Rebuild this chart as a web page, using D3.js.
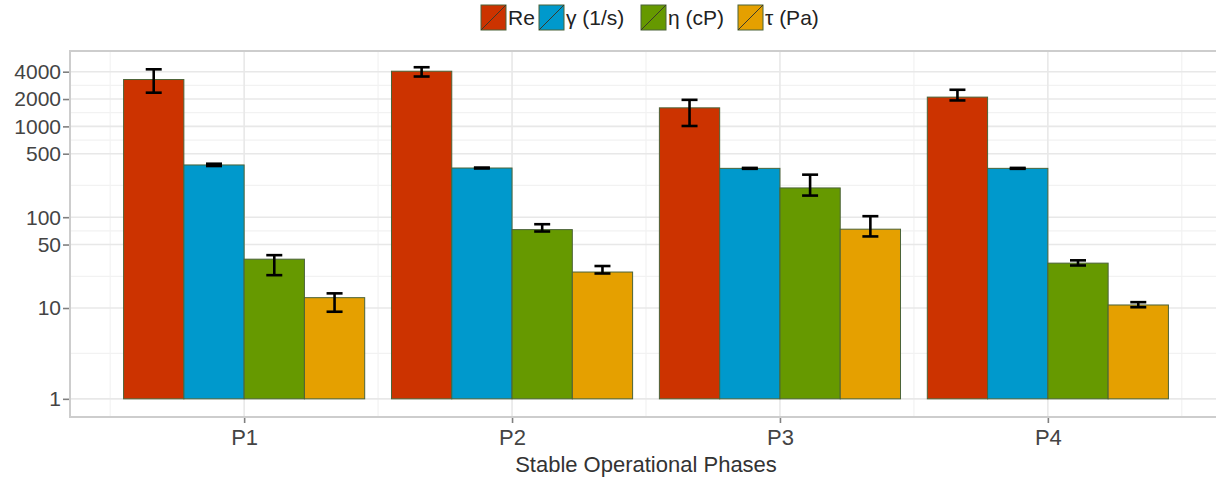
<!DOCTYPE html>
<html>
<head>
<meta charset="utf-8">
<script src="https://cdn.jsdelivr.net/npm/d3@7"></script>
<style>
  html, body { margin: 0; padding: 0; background: #fff; }
  svg { display: block; font-family: "Liberation Sans", Arial, sans-serif; }
</style>
</head>
<body>
<div id="chart"></div>
<script>
// data
const phases = ["P1", "P2", "P3", "P4"];
const seriesNames = ["Re", "γ (1/s)", "η (cP)", "τ (Pa)"];
const seriesColors = ["#cc3300", "#0099cc", "#669900", "#e5a000"];

const reMean = [3280, 4050, 1600, 2100];
const reLow = [2350, 3540, 1010, 1930];
const reHigh = [4250, 4480, 1960, 2530];

const gammaMean = [376, 348, 345, 345];
const gammaLow = [366, 344, 341, 341];
const gammaHigh = [388, 352, 349, 349];

const etaMean = [34.5, 73, 210, 31.2];
const etaLow = [23, 69.6, 173, 29.4];
const etaHigh = [38.2, 83.7, 294, 33.5];

const tauMean = [13, 24.9, 73.8, 10.8];
const tauLow = [9.1, 24, 61.4, 10.2];
const tauHigh = [14.5, 29, 102.6, 11.6];

const yTicks = [1, 10, 50, 100, 500, 1000, 2000, 4000];

const series = [
  { mean: reMean, low: reLow, high: reHigh },
  { mean: gammaMean, low: gammaLow, high: gammaHigh },
  { mean: etaMean, low: etaLow, high: etaHigh },
  { mean: tauMean, low: tauLow, high: tauHigh }
];

const width = 1216, height = 479;
const panel = { left: 70, right: 1222, top: 51, bottom: 417 };

const svg = d3.select("#chart").append("svg")
  .attr("width", width)
  .attr("height", height);

// scales
const x = d3.scaleLinear()
  .domain([-0.65, phases.length - 0.35])
  .range([panel.left, panel.right]);

const y = d3.scaleLog()
  .domain([Math.pow(10, -0.2), Math.pow(10, 3.83)])
  .range([panel.bottom, panel.top]);

const groupWidth = 0.9;
const barW = groupWidth / series.length;

// grid: minor lines half way between the major ones
const grid = svg.append("g");
const minorY = d3.pairs(yTicks).map(([a, b]) => (y(a) + y(b)) / 2);
grid.selectAll("line.minor-y").data(minorY).enter().append("line")
  .attr("x1", panel.left).attr("x2", panel.right)
  .attr("y1", d => d).attr("y2", d => d)
  .attr("stroke", "#f2f2f2").attr("stroke-width", 1.2);
const minorX = d3.range(-0.5, phases.length, 1);
grid.selectAll("line.minor-x").data(minorX).enter().append("line")
  .attr("x1", d => x(d)).attr("x2", d => x(d))
  .attr("y1", panel.top).attr("y2", panel.bottom)
  .attr("stroke", "#f2f2f2").attr("stroke-width", 1.2);
grid.selectAll("line.major-y").data(yTicks).enter().append("line")
  .attr("x1", panel.left).attr("x2", panel.right)
  .attr("y1", d => y(d)).attr("y2", d => y(d))
  .attr("stroke", "#e8e8e8").attr("stroke-width", 1.6);
grid.selectAll("line.major-x").data(phases).enter().append("line")
  .attr("x1", (d, i) => x(i)).attr("x2", (d, i) => x(i))
  .attr("y1", panel.top).attr("y2", panel.bottom)
  .attr("stroke", "#e8e8e8").attr("stroke-width", 1.6);

// bars
const bars = svg.append("g");
series.forEach((s, j) => {
  const g = bars.append("g");
  g.selectAll("rect").data(s.mean).enter().append("rect")
    .attr("x", (d, i) => x(i - groupWidth / 2 + j * barW))
    .attr("width", x(barW) - x(0))
    .attr("y", d => y(d))
    .attr("height", d => y(1) - y(d))
    .attr("fill", seriesColors[j])
    .attr("stroke", "#4b6338")
    .attr("stroke-width", 1);
});

// error bars
const errs = svg.append("g");
series.forEach((s, j) => {
  const capHalf = 8;
  s.mean.forEach((m, i) => {
    const cx = x(i - groupWidth / 2 + (j + 0.5) * barW);
    const g = errs.append("g").attr("stroke", "#000").attr("stroke-width", 2.6);
    g.append("line").attr("x1", cx).attr("x2", cx)
      .attr("y1", y(s.low[i])).attr("y2", y(s.high[i]));
    g.append("line").attr("x1", cx - capHalf).attr("x2", cx + capHalf)
      .attr("y1", y(s.low[i])).attr("y2", y(s.low[i]));
    g.append("line").attr("x1", cx - capHalf).attr("x2", cx + capHalf)
      .attr("y1", y(s.high[i])).attr("y2", y(s.high[i]));
  });
});

// panel border (left, top, bottom)
svg.append("path")
  .attr("d", `M${panel.right},${panel.top}H${panel.left}V${panel.bottom}H${panel.right}`)
  .attr("fill", "none")
  .attr("stroke", "#cdcdcd")
  .attr("stroke-width", 2);

// y axis
const yAxis = svg.append("g")
  .attr("transform", `translate(${panel.left - 1},0)`)
  .call(d3.axisLeft(y).tickValues(yTicks).tickFormat(d3.format("d")).tickSize(6).tickPadding(2));
yAxis.select(".domain").remove();
yAxis.selectAll(".tick line").attr("stroke", "#7f7f7f").attr("stroke-width", 1.6);
yAxis.selectAll(".tick text")
  .attr("fill", "#444")
  .style("font-size", "21px")
  .attr("dy", "0.33em");

// x axis
const xAxis = svg.append("g")
  .attr("transform", `translate(0,${panel.bottom + 1})`)
  .call(d3.axisBottom(x).tickValues(d3.range(phases.length)).tickFormat(i => phases[i]).tickSize(5).tickPadding(6));
xAxis.select(".domain").remove();
xAxis.selectAll(".tick line").attr("stroke", "#7f7f7f").attr("stroke-width", 1.6);
xAxis.selectAll(".tick text")
  .attr("fill", "#444")
  .style("font-size", "22px");

svg.append("text")
  .attr("x", x((phases.length - 1) / 2))
  .attr("y", 472)
  .attr("text-anchor", "middle")
  .attr("fill", "#333")
  .style("font-size", "22px")
  .text("Stable Operational Phases");

// legend
const legendX = [481, 539, 641, 738];
const legend = svg.append("g");
seriesNames.forEach((name, j) => {
  const g = legend.append("g").attr("transform", `translate(${legendX[j]},5)`);
  g.append("rect").attr("width", 25).attr("height", 25)
    .attr("fill", seriesColors[j]).attr("stroke", "#4b6338").attr("stroke-width", 1);
  g.append("line").attr("x1", 0).attr("y1", 25).attr("x2", 25).attr("y2", 0)
    .attr("stroke", "#3a3a2a").attr("stroke-width", 1);
  g.append("text").attr("x", 27).attr("y", 20)
    .attr("fill", "#222")
    .style("font-size", "21px")
    .text(name);
});
</script>
</body>
</html>
